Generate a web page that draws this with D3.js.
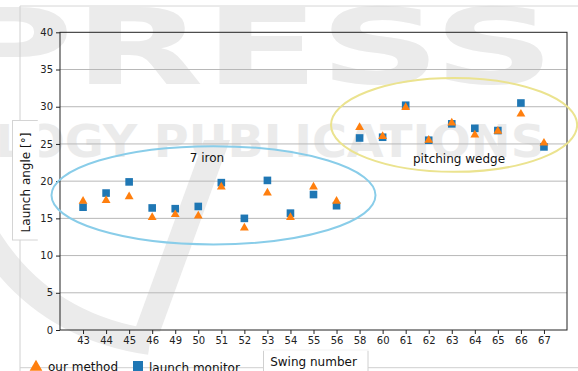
<!DOCTYPE html>
<html>
<head>
<meta charset="utf-8">
<script src="https://cdn.jsdelivr.net/npm/d3@7"></script>
<style>
  html, body { margin: 0; padding: 0; background: #fff; }
  svg { display: block; font-family: "DejaVu Sans", sans-serif; }
</style>
</head>
<body>
<svg id="chart" width="578" height="371"></svg>
<script>
// Swing numbers (categorical x axis)
const swings = ["43","44","45","46","49","50","51","52","53","54","55","56",
                "58","60","61","62","63","64","65","66","67"];
// Launch angle estimated by our method [deg]
const ourMethod = [17.4, 17.5, 18.0, 15.2, 15.6, 15.4, 19.3, 13.8, 18.5, 15.2, 19.3, 17.4,
                   27.3, 26.1, 30.0, 25.6, 27.9, 26.3, 26.8, 29.1, 25.2];
// Launch angle measured by the launch monitor [deg]
const launchMonitor = [16.5, 18.4, 19.9, 16.4, 16.3, 16.6, 19.8, 15.0, 20.1, 15.7, 18.2, 16.7,
                       25.8, 25.9, 30.2, 25.5, 27.7, 27.1, 26.8, 30.5, 24.6];
const yTicks = [0, 5, 10, 15, 20, 25, 30, 35, 40];
const seriesNames = ["our method", "launch monitor"];
// Club groups, circled in data units: centre index, centre angle, half-width (index units), half-height (deg)
const groupLabels = ["7 iron", "pitching wedge"];
const groupCx = [5.66, 16.1];
const groupCy = [18.1, 27.55];
const groupRx = [7.03, 5.34];
const groupRy = [6.6, 6.3];

(function () {
const svg = d3.select("#chart");
const W = 578, H = 371;
const pLeft = 60, pRight = 567, pTop = 32.3, pBottom = 330;

const orange = "#ff7f0e", blue = "#1f77b4";
const wmFill = "#ebebeb";

// ---- faint publisher watermark behind the figure ----
const wm = svg.append("g").attr("class", "watermark");
wm.append("text").attr("x", -50).attr("y", 84)
  .attr("font-size", 105).attr("font-weight", "bold").attr("fill", wmFill)
  .attr("textLength", 605).attr("lengthAdjust", "spacingAndGlyphs")
  .text("PRESS");
wm.append("text").attr("x", -45).attr("y", 157)
  .attr("font-size", 45).attr("font-weight", "bold").attr("fill", wmFill)
  .attr("textLength", 590).attr("lengthAdjust", "spacingAndGlyphs")
  .text("OLOGY PUBLICATIONS");
wm.append("path").attr("d", "M204,140 L230,140 L160,332 L134,332 Z").attr("fill", wmFill);
wm.append("path").attr("d", "M-20,225 Q35,325 150,342")
  .attr("fill", "none").attr("stroke", wmFill).attr("stroke-width", 26);

// ---- figure frame fragments ----
svg.append("line").attr("x1", 20).attr("x2", 20).attr("y1", 6).attr("y2", H).attr("stroke", "#d0d0d0");
svg.append("line").attr("x1", 20).attr("x2", W).attr("y1", 6).attr("y2", 6).attr("stroke", "#d6d6d6");
svg.append("line").attr("x1", 20).attr("x2", W).attr("y1", 367.7).attr("y2", 367.7).attr("stroke", "#cfcfcf");

// ---- scales ----
const x = d3.scalePoint().domain(swings).range([pLeft, pRight]).padding(1);
const y = d3.scaleLinear().domain([0, 40]).range([pBottom, pTop]);
const idx = d3.scaleLinear().domain([-1, swings.length]).range([pLeft, pRight]);

// gridlines
svg.append("g").selectAll("line").data(yTicks.filter(t => t > 0 && t < 40)).join("line")
  .attr("x1", pLeft).attr("x2", pRight)
  .attr("y1", d => y(d)).attr("y2", d => y(d))
  .attr("stroke", "#b8b8b8").attr("stroke-width", 1);

// axes
const yAxis = svg.append("g").attr("transform", `translate(${pLeft},0)`)
  .call(d3.axisLeft(y).tickValues(yTicks).tickSize(4).tickPadding(3));
const xAxis = svg.append("g").attr("transform", `translate(0,${pBottom})`)
  .call(d3.axisBottom(x).tickSize(4).tickPadding(3));
[yAxis, xAxis].forEach(a => {
  a.select(".domain").remove();
  a.selectAll("text").attr("font-size", 10).attr("font-family", "DejaVu Sans").attr("fill", "#222");
  a.selectAll("line").attr("stroke", "#222");
});

// plot frame
svg.append("rect").attr("x", pLeft).attr("y", pTop)
  .attr("width", pRight - pLeft).attr("height", pBottom - pTop)
  .attr("fill", "none").attr("stroke", "#222").attr("stroke-width", 1);

// ---- group ellipses and labels ----
const ellColors = ["#89cde9", "#ebe38f"];
groupLabels.forEach((lab, i) => {
  const cxp = idx(groupCx[i]);
  const rxp = idx(groupRx[i]) - idx(0);
  const cyp = y(groupCy[i]);
  const ryp = y(0) - y(groupRy[i]);
  svg.append("ellipse").attr("cx", cxp).attr("cy", cyp).attr("rx", rxp).attr("ry", ryp)
    .attr("fill", "none").attr("stroke", ellColors[i]).attr("stroke-width", 2);
});
svg.append("text").attr("x", 207).attr("y", 162).attr("text-anchor", "middle")
  .attr("font-size", 12).attr("fill", "#111").text(groupLabels[0]);
svg.append("text").attr("x", 459).attr("y", 163).attr("text-anchor", "middle")
  .attr("font-size", 12).attr("fill", "#111").text(groupLabels[1]);

// ---- markers ----
const sq = 7.6;
svg.append("g").selectAll("rect").data(launchMonitor).join("rect")
  .attr("x", (d, i) => x(swings[i]) - sq / 2)
  .attr("y", d => y(d) - sq / 2)
  .attr("width", sq).attr("height", sq)
  .attr("fill", blue);
const tri = d3.symbol().type(d3.symbolTriangle).size(34);
svg.append("g").selectAll("path").data(ourMethod).join("path")
  .attr("d", tri)
  .attr("transform", (d, i) => `translate(${x(swings[i])},${y(d) + 0.6})`)
  .attr("fill", orange);

// ---- y axis label in its white box ----
svg.append("rect").attr("x", 12.5).attr("y", 120.5).attr("width", 26).attr("height", 119.5)
  .attr("fill", "#fff").attr("stroke", "#d4d4d4");
svg.append("line").attr("x1", 38.5).attr("x2", 38.5).attr("y1", 120).attr("y2", 241).attr("stroke", "#fff").attr("stroke-width", 1.5);
svg.append("text").attr("transform", "translate(30,182.5) rotate(-90)")
  .attr("text-anchor", "middle").attr("font-size", 12).attr("fill", "#111")
  .text("Launch angle [°]");

// ---- x axis label in its white box ----
svg.append("rect").attr("x", 263.5).attr("y", 350).attr("width", 104.5).attr("height", 30)
  .attr("fill", "#fff").attr("stroke", "#d0d0d0");
svg.append("line").attr("x1", 263).attr("x2", 369).attr("y1", 350).attr("y2", 350).attr("stroke", "#fff").attr("stroke-width", 1.5);
svg.append("text").attr("x", 313.5).attr("y", 365.5).attr("text-anchor", "middle")
  .attr("font-size", 12).attr("fill", "#111").text("Swing number");

// ---- legend ----
const lg = svg.append("g");
lg.append("path").attr("d", d3.symbol().type(d3.symbolTriangle).size(70))
  .attr("transform", "translate(36,367)").attr("fill", orange);
lg.append("text").attr("x", 48).attr("y", 371).attr("font-size", 12).attr("fill", "#111").text(seriesNames[0]);
lg.append("rect").attr("x", 133).attr("y", 361).attr("width", 10).attr("height", 10).attr("fill", blue);
lg.append("text").attr("x", 149).attr("y", 372).attr("font-size", 12).attr("fill", "#111").text(seriesNames[1]);
})();
</script>
</body>
</html>
